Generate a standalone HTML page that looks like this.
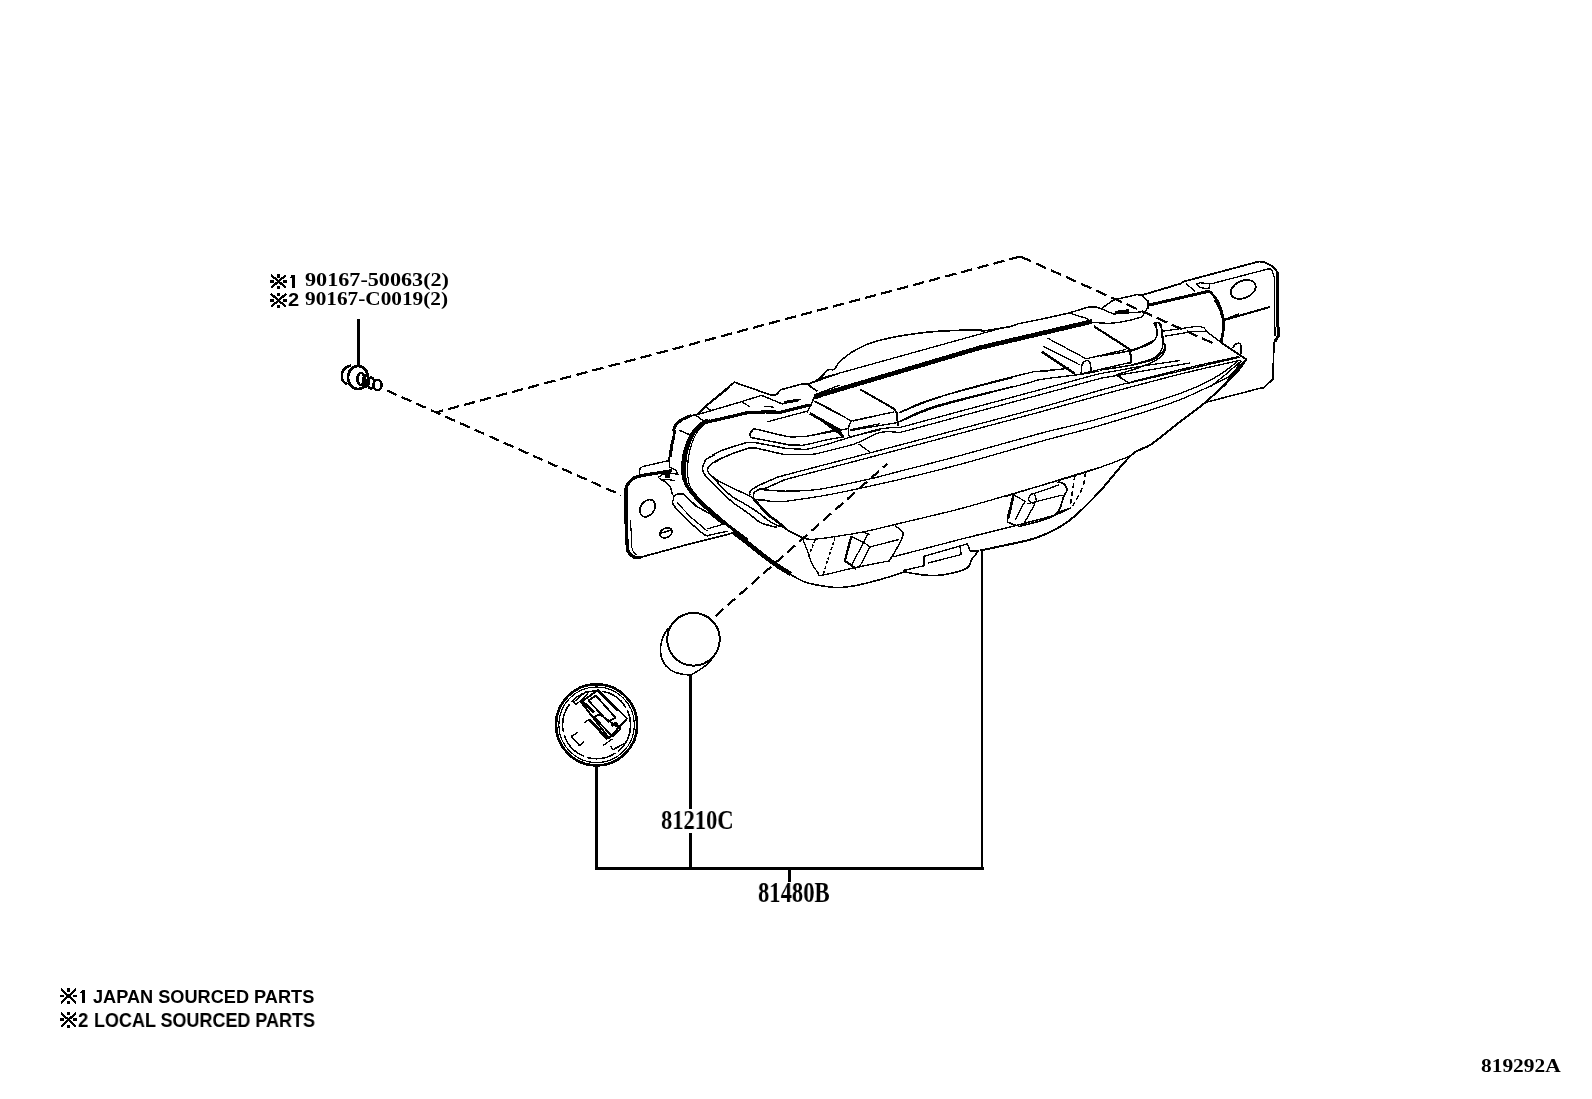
<!DOCTYPE html>
<html><head><meta charset="utf-8">
<style>
html,body{margin:0;padding:0;background:#fff;}
body{width:1592px;height:1099px;overflow:hidden;position:relative;}
svg{position:absolute;left:0;top:0;}
.t{position:absolute;white-space:nowrap;color:#000;line-height:1;transform-origin:0 0;will-change:transform;}
.ser{font-family:"Liberation Serif",serif;font-weight:bold;}
.san{font-family:"Liberation Sans",sans-serif;}
</style></head><body>
<svg width="1592" height="1099" viewBox="0 0 1592 1099">
<g fill="none" stroke="#000" stroke-linejoin="round" stroke-linecap="butt" shape-rendering="crispEdges">
<path d="M668.8,460.8 L669.6,454.5 L670.9,445.8 L673.1,437.0 L674.4,428.9 L677.5,423.9 L682.5,420.1 L692.5,415.5 L698.1,413.9 L705.0,407.0 L730.0,387.0" stroke-width="1.60"/>
<path d="M670.9,457.0 L671.9,445.8 L674.0,437.0 L675.0,430.1" stroke-width="2.20"/>
<path d="M639.4,475.8 L640.0,468.2 L643.1,466.4 L668.1,460.8 L669.1,460.8" stroke-width="1.30"/>
<path d="M669.1,460.8 L669.6,467.0 L676.2,470.5 L677.5,474.5" stroke-width="1.30"/>
<path d="M626.0,488.0 C626.3,487.3 626.7,485.7 628.0,484.0 C629.3,482.3 631.2,479.5 634.0,478.0 C636.8,476.5 640.0,476.0 645.0,475.0 C650.0,474.0 659.5,472.8 664.0,472.0 C668.5,471.2 670.7,470.8 672.0,470.5" stroke-width="3.20"/>
<path d="M626.5,488.0 L626.2,524.0" stroke-width="4.00"/>
<path d="M708.4,420.0 C707.3,420.5 704.8,420.7 701.8,423.3 C698.9,425.8 693.8,430.4 690.9,435.3 C688.0,440.2 685.7,448.0 684.4,452.8 C683.0,457.5 682.9,459.7 682.7,463.7 C682.5,467.7 682.6,473.1 683.3,476.8 C683.9,480.4 685.3,483.0 686.6,485.5 C687.8,488.1 688.4,489.0 690.9,492.1 C693.5,495.2 697.7,500.1 701.8,504.1 C706.0,508.1 710.6,511.7 716.0,516.1 C721.5,520.5 729.3,526.3 734.6,530.3 C739.9,534.3 745.5,538.4 747.7,540.0" stroke-width="3.00"/>
<path d="M712.8,420.0 C711.3,420.7 706.9,421.8 704.0,424.4 C701.1,426.9 697.7,430.6 695.3,435.3 C692.8,440.0 690.6,447.1 689.3,452.8 C688.0,458.4 687.6,463.9 687.6,469.1 C687.6,474.4 688.1,480.4 689.3,484.4 C690.5,488.4 691.7,489.5 694.7,493.2 C697.7,496.8 702.5,501.7 707.3,506.3 C712.1,510.8 718.4,515.9 723.7,520.5 C729.0,525.0 735.3,530.3 739.0,533.6 C742.6,536.8 744.4,538.9 745.5,540.0" stroke-width="1.20"/>
<path d="M714.8,455.0 C713.4,455.7 708.5,457.4 706.6,459.0 C704.7,460.5 704.2,462.9 703.5,464.5 C702.8,466.2 702.4,467.5 702.5,469.0 C702.6,470.5 703.2,472.1 703.9,473.4 C704.5,474.7 704.8,474.9 706.6,476.8 C708.4,478.8 711.7,481.9 714.8,485.0 C717.9,488.1 721.8,492.2 725.0,495.2 C728.2,498.3 730.7,500.9 733.9,503.4 C737.1,505.9 741.0,508.1 744.1,510.3 C747.2,512.4 749.7,514.4 752.3,516.4 C754.9,518.4 757.5,520.8 759.8,522.2 C762.1,523.6 763.1,523.7 765.9,524.6 C768.8,525.4 775.0,526.9 776.9,527.3" stroke-width="1.50"/>
<path d="M729.1,455.0 C726.8,456.0 718.8,459.3 715.5,461.1 C712.2,463.0 710.6,464.5 709.3,465.9 C708.0,467.3 707.7,468.2 707.6,469.3 C707.5,470.5 707.3,470.9 708.6,472.7 C709.9,474.6 712.8,477.4 715.5,480.2 C718.1,483.1 721.4,486.9 724.3,489.8 C727.3,492.6 730.1,495.1 733.2,497.3 C736.3,499.5 739.1,500.6 742.7,502.7 C746.4,504.9 751.6,508.0 755.0,510.3 C758.4,512.5 761.2,514.8 763.2,516.4 C765.3,518.0 765.0,518.3 767.3,519.8 C769.6,521.3 773.9,524.0 776.9,525.3 C779.8,526.5 783.6,527.0 785.0,527.3" stroke-width="1.50"/>
<path d="M708.6,472.7 C709.3,473.4 711.3,475.6 712.7,476.8 C714.2,478.1 715.7,479.1 717.5,480.2 C719.3,481.4 721.0,482.3 723.6,483.6 C726.3,485.0 729.1,486.5 733.2,488.4 C737.3,490.4 744.8,493.5 748.2,495.2 C751.6,497.0 752.8,498.1 753.7,498.7" stroke-width="1.50"/>
<path d="M753.7,498.7 L756.4,502.1 L763.2,509.6 L770.0,516.4 L776.9,521.2 L785.0,528.0" stroke-width="2.60"/>
<path d="M785.0,475.1 C783.6,475.5 781.1,475.9 776.9,477.5 C772.7,479.2 764.0,483.0 759.8,485.0 C755.6,487.1 753.3,488.4 751.6,489.8 C749.9,491.2 749.9,492.4 749.6,493.2 C749.3,494.0 749.9,494.3 749.9,494.6" stroke-width="1.50"/>
<path d="M785.0,479.6 C781.9,480.9 770.8,486.2 766.6,487.7 C762.4,489.3 761.8,488.3 759.8,489.1 C757.8,489.9 755.4,491.4 754.3,492.5 C753.3,493.7 753.4,494.9 753.3,495.9 C753.2,497.0 753.6,498.2 753.7,498.7" stroke-width="1.50"/>
<path d="M759.8,489.4 L772.1,490.5 L785.0,491.2" stroke-width="1.50"/>
<path d="M756.4,499.7 L763.2,500.0 L772.8,501.7 L785.0,501.4" stroke-width="1.50"/>
<path d="M747.2,442.4 L734.6,446.2 L721.5,450.6 L711.7,455.5" stroke-width="1.50"/>
<path d="M749.9,447.8 L734.6,452.8 L719.3,459.3 L714.9,462.6" stroke-width="1.50"/>
<path d="M747.2,442.4 L755.3,442.6 L787.0,448.6 L800.0,448.9" stroke-width="1.50"/>
<path d="M749.9,447.8 L756.4,448.1 L784.8,454.7 L800.0,454.4" stroke-width="1.50"/>
<path d="M751.0,437.5 C750.8,436.9 749.7,435.3 749.9,434.2 C750.1,433.1 751.0,431.7 752.1,430.9 C753.2,430.1 750.6,428.4 756.4,429.3 C762.3,430.2 779.7,435.2 787.0,436.4 C794.3,437.6 797.8,436.4 800.0,436.4" stroke-width="1.50"/>
<path d="M751.0,437.5 L789.2,444.9 L800.0,445.1" stroke-width="1.50"/>
<path d="M690.0,416.2 L697.5,414.3 L706.0,405.8 L734.3,382.2 L772.0,395.4 L776.7,394.5 L780.5,389.8 L803.1,383.7 L808.7,384.1 L819.1,379.4 L827.6,370.0" stroke-width="1.60"/>
<path d="M808.7,384.1 L839.8,373.0" stroke-width="1.30"/>
<path d="M807.8,384.6 L817.2,391.2" stroke-width="1.80"/>
<path d="M695.7,415.2 L704.1,421.4" stroke-width="1.40"/>
<path d="M706.0,406.7 L710.3,410.0" stroke-width="1.40"/>
<path d="M698.5,414.3 L737.1,403.0 L761.6,395.4 L782.3,403.9 L801.2,399.2" stroke-width="1.40"/>
<path d="M784.2,402.5 L798.4,400.0" stroke-width="3.00"/>
<path d="M740.9,401.1 L750.3,407.2" stroke-width="1.20"/>
<path d="M764.4,406.3 L773.9,407.2" stroke-width="1.20"/>
<path d="M704.1,422.8 L746.5,412.9 L765.4,411.9 L780.5,412.2 L809.7,404.9" stroke-width="3.20"/>
<path d="M767.3,421.8 L805.9,411.5" stroke-width="1.30"/>
<path d="M806.8,412.4 L810.6,405.8 L815.3,394.5" stroke-width="1.50"/>
<path d="M815.3,401.1 L840.0,414.3" stroke-width="1.30"/>
<path d="M809.7,413.3 L840.0,430.3" stroke-width="2.80"/>
<path d="M815.3,394.5 L840.0,385.1" stroke-width="1.30"/>
<path d="M815.3,398.3 L840.0,388.4" stroke-width="2.50"/>
<path d="M814.0,381.9 C815.0,381.1 818.0,379.5 820.2,377.5 C822.5,375.5 825.5,371.4 827.8,370.0 C830.0,368.6 832.1,370.6 834.0,369.4 C835.9,368.1 836.7,364.9 839.0,362.5 C841.3,360.1 844.6,357.3 847.8,355.0 C850.9,352.7 854.0,350.7 857.8,348.8 C861.5,346.8 865.0,344.9 870.2,343.1 C875.5,341.4 881.7,339.7 889.0,338.1 C896.3,336.6 905.7,334.9 914.0,333.8 C922.3,332.6 928.2,331.9 939.0,331.2 C949.8,330.6 971.7,330.0 979.0,330.0 C986.3,330.0 979.0,331.3 982.8,331.0 C986.5,330.7 996.5,329.0 1001.5,328.1 C1006.5,327.3 1011.1,326.4 1013.0,326.0" stroke-width="1.60"/>
<path d="M819.0,378.8 L999.0,328.8" stroke-width="1.30"/>
<path d="M814.0,396.9 L980.0,347.7 L1092.0,321.5" stroke-width="4.60"/>
<path d="M860.2,389.4 L894.0,408.8 L897.1,413.1 L897.8,426.2" stroke-width="2.00"/>
<path d="M814.0,401.2 L851.5,420.9" stroke-width="1.30"/>
<path d="M851.5,420.9 L894.0,411.9" stroke-width="1.30"/>
<path d="M851.5,420.9 L849.0,425.0 L848.4,435.0 L851.5,438.1" stroke-width="1.30"/>
<path d="M850.2,430.6 L897.8,422.5" stroke-width="1.30"/>
<path d="M814.0,415.0 L842.8,436.2" stroke-width="1.80"/>
<path d="M838.5,430.0 L843.0,437.0" stroke-width="2.80"/>
<path d="M899.0,412.8 C904.6,410.4 913.8,404.6 932.8,398.8 C951.8,392.9 999.6,381.0 1013.0,377.5" stroke-width="1.30"/>
<path d="M899.0,421.9 C904.8,419.3 915.0,412.4 934.0,406.5 C953.0,400.6 999.8,389.8 1013.0,386.5" stroke-width="1.30"/>
<path d="M814.0,435.0 L849.0,428.5" stroke-width="1.30"/>
<path d="M900.0,412.5 C905.2,410.4 920.8,403.8 931.2,400.0 C941.7,396.2 946.9,394.4 962.5,390.0 C978.1,385.6 1012.5,376.8 1025.0,373.8 C1037.5,370.7 1030.4,372.4 1037.5,371.5 C1044.6,370.6 1062.5,369.0 1067.5,368.5" stroke-width="1.30"/>
<path d="M900.0,421.9 C905.8,419.5 914.2,413.9 935.0,407.5 C955.8,401.1 1007.3,388.4 1025.0,383.8 C1042.7,379.1 1032.5,380.9 1041.2,379.4 C1050.0,377.9 1067.9,376.1 1077.5,374.8 C1087.1,373.4 1095.4,371.8 1099.0,371.2" stroke-width="1.30"/>
<path d="M900.0,427.5 L1099.0,373.8" stroke-width="1.30"/>
<path d="M900.0,432.5 L1099.0,378.8" stroke-width="1.30"/>
<path d="M1003.8,497.0 L1099.0,467.5" stroke-width="1.30"/>
<path d="M892.5,557.0 L979.0,534.5" stroke-width="1.30"/>
<path d="M802.5,538.2 C803.2,540.1 805.4,545.5 806.9,549.5 C808.3,553.5 809.5,558.2 811.2,562.0 C813.0,565.8 815.6,569.8 817.5,572.0 C819.4,574.2 816.2,575.9 822.5,575.1 C828.8,574.4 843.8,570.0 855.0,567.6 C866.2,565.2 884.2,561.9 890.0,560.8" stroke-width="1.30"/>
<path d="M851.2,536.4 L845.0,560.8 L856.2,568.9" stroke-width="2.20"/>
<path d="M887.5,562.0 C888.3,561.0 889.9,560.3 892.5,555.8 C895.1,551.2 902.7,539.5 903.1,534.5 C903.5,529.5 896.4,527.2 895.0,525.8" stroke-width="1.50"/>
<path d="M851.2,536.4 L865.0,543.2 L870.0,547.0 L898.8,539.5" stroke-width="1.30"/>
<path d="M862.5,532.0 L870.0,534.5" stroke-width="1.30"/>
<path d="M862.5,544.5 L851.2,565.8" stroke-width="1.30"/>
<path d="M870.0,547.0 L858.8,568.2" stroke-width="1.30"/>
<path d="M867.5,534.5 L862.5,544.5" stroke-width="1.30"/>
<path d="M815.0,540.1 L808.1,557.0" stroke-width="1.50" stroke-dasharray="3,2"/>
<path d="M835.0,537.6 L823.1,574.5" stroke-width="1.50" stroke-dasharray="3,2"/>
<path d="M905.0,570.1 L923.8,565.8 L923.8,556.4 L967.5,543.9 L970.0,550.8 L979.0,550.8" stroke-width="1.40"/>
<path d="M927.5,563.2 L961.2,554.5 L960.0,547.0" stroke-width="1.30"/>
<path d="M1040.0,319.4 L1068.8,313.1 L1089.1,306.8 L1095.5,306.8 L1101.2,308.7 L1112.0,301.0 L1114.6,299.7 L1136.9,294.6 L1142.0,295.3 L1147.4,301.0 L1148.4,309.3" stroke-width="1.50"/>
<path d="M1142.0,295.3 L1170.0,287.0" stroke-width="1.50"/>
<path d="M1147.0,305.5 L1210.0,291.0" stroke-width="3.00"/>
<path d="M1101.2,308.8 L1113.8,314.0 L1141.2,311.9" stroke-width="1.30"/>
<path d="M1115.0,312.5 L1128.8,310.6" stroke-width="3.00"/>
<path d="M1070.0,313.1 L1087.5,318.8 L1089.4,321.9" stroke-width="1.30"/>
<path d="M1088.8,321.9 C1092.7,322.1 1104.0,323.9 1112.5,323.1 C1121.0,322.4 1134.8,319.1 1140.0,317.5 C1145.2,315.9 1142.5,315.4 1143.8,313.8 C1145.0,312.1 1146.7,309.8 1147.5,307.5 C1148.3,305.2 1148.5,301.2 1148.8,300.0" stroke-width="1.40"/>
<path d="M1093.8,326.2 C1099.4,329.9 1121.5,343.8 1127.5,348.1 C1133.5,352.5 1129.4,350.5 1130.0,352.5 C1130.6,354.5 1131.2,358.1 1131.2,360.0 C1131.2,361.9 1130.2,363.1 1130.0,363.8" stroke-width="2.20"/>
<path d="M1047.5,338.1 L1086.2,358.8" stroke-width="1.30"/>
<path d="M1043.1,346.2 L1080.0,365.0" stroke-width="1.30"/>
<path d="M1041.9,351.9 L1075.0,373.8" stroke-width="2.50"/>
<path d="M1086.2,358.8 L1126.2,349.4" stroke-width="1.30"/>
<path d="M1081.2,373.8 C1081.4,372.3 1081.0,367.2 1081.9,365.0 C1082.7,362.8 1084.9,361.0 1086.2,360.6 C1087.6,360.2 1089.2,360.5 1090.0,362.5 C1090.8,364.5 1091.0,370.8 1091.2,372.5" stroke-width="1.50"/>
<path d="M1081.2,373.8 L1130.0,362.5" stroke-width="1.30"/>
<path d="M1040.0,371.9 L1068.8,368.1" stroke-width="1.30"/>
<path d="M1153.8,322.5 C1154.3,323.8 1156.5,327.5 1156.9,330.0 C1157.3,332.5 1157.4,335.2 1156.2,337.5 C1155.1,339.8 1154.0,341.6 1150.0,343.8 C1146.0,345.9 1135.4,349.5 1132.5,350.6" stroke-width="1.50"/>
<path d="M1158.8,322.5 C1159.3,323.8 1161.1,326.5 1161.9,330.0 C1162.6,333.5 1163.4,340.0 1163.1,343.8 C1162.8,347.5 1161.8,350.0 1160.0,352.5 C1158.2,355.0 1157.3,356.7 1152.5,358.8 C1147.7,360.8 1134.8,364.0 1131.2,365.0" stroke-width="1.50"/>
<path d="M1165.0,343.8 C1165.0,344.8 1165.8,347.7 1165.0,350.0 C1164.2,352.3 1163.1,355.0 1160.0,357.5 C1156.9,360.0 1153.5,362.1 1146.2,365.0 C1139.0,367.9 1121.2,373.3 1116.2,375.0" stroke-width="1.50"/>
<path d="M1116.2,375.0 L1130.0,383.8" stroke-width="1.30"/>
<path d="M1215.0,300.0 C1216.0,302.1 1219.8,308.3 1221.2,312.5 C1222.7,316.7 1223.5,321.2 1223.8,325.0 C1224.0,328.8 1223.0,332.1 1222.5,335.0 C1222.0,337.9 1220.9,341.2 1220.6,342.5" stroke-width="2.40"/>
<path d="M1223.8,320.0 L1239.0,313.8" stroke-width="1.50"/>
<path d="M1142.5,295.0 L1180.0,283.8 L1185.0,281.2 L1258.8,261.5 L1263.8,261.9 L1272.5,266.2 L1277.5,271.9" stroke-width="1.80"/>
<path d="M1277.5,271.9 L1278.1,336.2 L1275.0,341.2" stroke-width="3.00"/>
<path d="M1271.9,270.0 L1274.4,277.5 L1275.0,336.2" stroke-width="1.20"/>
<path d="M1275.0,341.2 L1273.8,344.0 L1273.1,378.8 L1264.0,387.5 L1260.0,388.3" stroke-width="1.80"/>
<path d="M1211.2,283.8 L1268.8,268.8 L1272.5,269.4" stroke-width="1.30"/>
<path d="M1186.2,283.8 L1195.0,291.2" stroke-width="1.30"/>
<path d="M1196.2,283.8 L1200.0,287.5 L1208.8,288.8 L1210.0,283.8 L1200.0,282.8 L1196.2,283.8" stroke-width="1.30"/>
<path d="M1224.4,320.0 L1270.0,306.9" stroke-width="2.00"/>
<path d="M1210.0,291.2 C1211.2,292.9 1215.5,297.7 1217.5,301.2 C1219.5,304.8 1220.8,309.0 1221.9,312.5 C1222.9,316.0 1223.6,318.8 1223.8,322.5 C1223.9,326.2 1222.9,331.7 1222.5,335.0 C1222.1,338.3 1221.5,341.2 1221.2,342.5" stroke-width="2.60"/>
<path d="M1232.5,348.1 C1233.1,347.4 1234.9,344.4 1236.2,343.8 C1237.6,343.1 1239.8,342.7 1240.6,344.4 C1241.5,346.0 1241.1,352.2 1241.2,353.8" stroke-width="1.60"/>
<path d="M1221.2,342.5 L1246.2,359.4 L1243.8,362.5 L1231.2,375.0 L1223.8,387.0" stroke-width="2.00"/>
<path d="M1162.5,331.2 L1197.5,326.2 L1203.8,327.5 L1207.5,331.9" stroke-width="1.30"/>
<path d="M1165.0,336.2 L1192.5,331.5 L1206.2,331.2" stroke-width="1.30"/>
<path d="M1206.2,331.2 L1221.2,342.5" stroke-width="1.30"/>
<path d="M1131.2,382.5 L1240.0,357.2" stroke-width="1.30"/>
<path d="M1241.2,361.0 L1225.0,375.0 L1210.0,387.0" stroke-width="1.30"/>
<path d="M1153.8,322.5 C1154.2,322.7 1155.8,321.2 1156.2,323.8 C1156.7,326.2 1157.3,334.4 1156.2,337.5 C1155.2,340.6 1154.0,340.4 1150.0,342.5 C1146.0,344.6 1140.8,347.7 1132.5,350.0 C1124.2,352.3 1105.4,355.2 1100.0,356.2" stroke-width="1.50"/>
<path d="M1157.5,322.5 C1158.1,322.9 1160.4,322.1 1161.2,325.0 C1162.1,327.9 1161.9,336.7 1162.5,340.0 C1163.1,343.3 1164.8,343.3 1165.0,345.0 C1165.2,346.7 1165.4,347.7 1163.8,350.0 C1162.1,352.3 1160.2,356.2 1155.0,358.8 C1149.8,361.2 1141.7,363.1 1132.5,365.0 C1123.3,366.9 1105.4,369.2 1100.0,370.0" stroke-width="1.50"/>
<path d="M970.0,537.0 C978.8,534.8 1008.3,527.4 1022.5,523.8 C1036.7,520.1 1046.9,517.7 1055.0,515.0 C1063.1,512.3 1068.5,509.0 1071.2,507.8" stroke-width="1.50"/>
<path d="M1013.8,493.8 C1012.7,497.9 1008.1,513.9 1007.5,518.8 C1006.9,523.6 1008.3,522.0 1010.0,523.1 C1011.7,524.3 1015.4,525.2 1017.5,525.6 C1019.6,526.0 1016.2,527.4 1022.5,525.6 C1028.8,523.9 1048.1,519.9 1055.0,515.0 C1061.9,510.1 1061.8,500.4 1063.8,496.2 C1065.7,492.1 1066.9,492.1 1066.9,490.0 C1066.9,487.9 1065.3,485.1 1063.8,483.8 C1062.2,482.4 1058.5,482.2 1057.5,481.9" stroke-width="1.60"/>
<path d="M1013.8,493.8 L1008.1,518.8" stroke-width="2.60"/>
<path d="M1030.0,495.0 L1058.8,485.0" stroke-width="1.30"/>
<path d="M1027.5,503.8 L1062.5,495.0" stroke-width="1.30"/>
<path d="M1028.1,500.0 C1028.4,499.2 1029.1,496.0 1030.0,495.0 C1030.9,494.0 1032.7,492.9 1033.8,493.8 C1034.8,494.6 1036.2,498.3 1036.2,500.0 C1036.2,501.7 1035.1,503.8 1033.8,503.8 C1032.4,503.8 1029.1,500.6 1028.1,500.0" stroke-width="1.30"/>
<path d="M1013.8,495.0 L1025.0,501.2 L1015.0,520.0" stroke-width="1.30"/>
<path d="M1035.0,503.8 L1023.8,523.8" stroke-width="1.30"/>
<path d="M1075.0,475.0 L1070.0,507.5" stroke-width="1.60" stroke-dasharray="5,3"/>
<path d="M1085.6,472.5 C1085.1,475.0 1084.7,481.9 1082.5,487.5 C1080.3,493.1 1074.2,503.1 1072.5,506.2" stroke-width="1.60" stroke-dasharray="5,3"/>
<path d="M1057.5,512.5 L1070.0,508.1" stroke-width="1.30"/>
<path d="M598.3,689.8 L627.0,718.5 L609.0,738.1 L581.1,702.1 Z" stroke-width="2.00"/>
<path d="M582.8,701.7 L594.2,712.8" stroke-width="2.60"/>
<path d="M589.3,719.3 L607.3,739.0" stroke-width="2.80"/>
<path d="M598.3,690.6 L618.0,710.3" stroke-width="2.80"/>
<path d="M588.5,700.5 L595.9,695.6 L615.5,717.7 L608.1,721.8 Z" stroke-width="1.80"/>
<path d="M594.2,716.9 L600.0,714.4 L620.4,729.1 L612.2,736.5 Z" stroke-width="1.80"/>
<path d="M611.4,725.9 L615.5,723.4 L620.4,729.1" stroke-width="3.00"/>
<path d="M573.8,702.1 L586.0,691.5 L587.7,693.9 L576.2,704.6 Z" stroke-width="1.30"/>
<path d="M577.8,732.4 L571.3,736.5 L579.5,745.5 L584.4,741.4" stroke-width="1.50"/>
<path d="M610.6,746.3 L613.1,749.6 L627.0,742.2" stroke-width="1.50"/>
<path d="M603.2,745.5 L612.2,739.0" stroke-width="1.30"/>
<path d="M584.4,722.6 L589.3,719.3" stroke-width="1.30"/>
<path d="M626.2,520.0 C626.3,523.5 626.7,535.8 627.0,541.0 C627.3,546.2 626.8,548.3 628.0,551.0 C629.2,553.7 631.8,556.0 634.0,557.0 C636.2,558.0 639.8,557.2 641.0,557.2" stroke-width="3.20"/>
<path d="M630.6,520.0 C630.8,523.5 631.2,536.0 631.5,541.0 C631.8,546.0 631.6,547.6 632.5,550.0 C633.4,552.4 636.2,554.3 636.9,555.2" stroke-width="1.10"/>
<path d="M641.2,557.1 L685.0,545.2 L733.8,532.8" stroke-width="1.70"/>
<path d="M661.2,533.1 L671.2,530.0" stroke-width="1.50"/>
<path d="M672.5,501.2 C672.8,502.1 671.7,502.9 674.4,506.2 C677.1,509.6 683.6,516.5 688.8,521.2 C693.9,526.0 701.2,532.8 705.0,535.0 C708.8,537.2 710.2,534.5 711.2,534.4" stroke-width="1.50"/>
<path d="M676.9,502.5 L691.2,517.5 L707.5,531.2" stroke-width="1.30"/>
<path d="M673.1,501.2 L673.8,496.2 L677.5,493.8 L683.8,494.0 L696.2,506.2 L710.0,513.8 L723.8,525.0" stroke-width="1.50"/>
<path d="M733.0,532.0 C735.4,533.8 743.3,539.7 747.6,543.0 C751.9,546.3 753.9,548.2 758.8,552.0 C763.6,555.8 771.6,561.8 777.0,565.5 C782.4,569.2 788.7,572.6 791.0,574.0" stroke-width="4.50"/>
<path d="M789.0,573.5 C791.7,574.9 798.5,579.9 805.3,582.1 C812.1,584.4 823.0,586.2 829.8,587.0 C836.6,587.8 839.4,587.8 846.2,587.0 C853.0,586.2 861.2,584.6 870.7,582.1 C880.2,579.6 897.6,574.3 903.3,572.3 C909.0,570.2 904.7,570.2 905.0,569.8" stroke-width="1.60"/>
<path d="M905.0,569.5 C905.3,570.0 901.4,571.3 906.6,572.3 C911.8,573.3 926.2,576.0 936.0,575.5 C945.8,575.0 959.4,571.7 965.4,569.0 C971.4,566.3 969.7,562.2 971.9,559.2 C974.1,556.2 977.3,552.4 978.4,551.0" stroke-width="1.60"/>
<path d="M658.8,478.1 C659.8,478.8 663.1,480.5 665.0,481.9 C666.9,483.2 668.8,484.1 670.0,486.2 C671.2,488.4 672.1,493.5 672.5,495.0" stroke-width="1.40"/>
<path d="M707.5,528.8 L725.0,523.8" stroke-width="1.30"/>
<path d="M710.0,535.0 L727.5,531.2" stroke-width="1.30"/>
<path d="M785.0,475.1 C804.2,470.1 870.8,452.7 900.0,445.0 C929.2,437.3 936.7,435.2 960.0,429.0 C983.3,422.8 1016.7,414.1 1040.0,407.6 C1063.3,401.2 1085.0,394.5 1100.0,390.3 C1115.0,386.1 1115.1,386.2 1130.2,382.3 C1145.3,378.4 1172.4,371.5 1190.5,367.2 C1208.6,362.9 1230.7,358.4 1238.7,356.6" stroke-width="1.30"/>
<path d="M785.0,479.6 C804.2,474.6 870.8,457.1 900.0,449.4 C929.2,441.7 936.7,439.6 960.0,433.4 C983.3,427.2 1016.7,418.4 1040.0,412.0 C1063.3,405.6 1080.0,400.8 1100.0,395.3 C1120.0,389.8 1143.5,383.6 1160.3,379.2 C1177.0,374.8 1187.1,372.4 1200.5,369.2 C1213.9,366.0 1234.0,361.7 1240.7,360.2" stroke-width="1.30"/>
<path d="M785.0,491.2 C790.4,490.9 803.8,491.4 817.5,489.5 C831.2,487.6 853.8,482.5 867.5,479.5 C881.2,476.5 884.6,475.2 900.0,471.2 C915.4,467.3 936.7,461.9 960.0,455.6 C983.3,449.3 1016.7,439.7 1040.0,433.5 C1063.3,427.3 1076.6,425.1 1100.0,418.4 C1123.4,411.7 1161.1,400.2 1180.4,393.3 C1199.7,386.4 1206.2,382.4 1215.6,377.2 C1225.0,372.0 1233.2,364.7 1236.7,362.2" stroke-width="1.30"/>
<path d="M785.0,501.4 C792.5,500.2 810.8,498.2 830.0,494.5 C849.2,490.8 878.3,484.4 900.0,479.4 C921.7,474.4 936.7,470.7 960.0,464.4 C983.3,458.1 1016.7,448.1 1040.0,441.6 C1063.3,435.1 1078.3,431.9 1100.0,425.5 C1121.7,419.1 1152.8,409.6 1170.4,403.4 C1188.0,397.2 1195.5,393.0 1205.5,388.3 C1215.5,383.6 1224.8,379.7 1230.7,375.2 C1236.6,370.7 1239.0,363.5 1240.7,361.2" stroke-width="1.30"/>
<path d="M802.5,538.2 C803.8,538.4 807.4,539.2 810.4,539.3 C813.4,539.4 816.7,539.0 820.6,538.6 C824.5,538.2 826.7,537.9 833.7,536.8 C840.7,535.7 851.8,534.2 862.8,532.0 C873.8,529.8 883.8,527.2 900.0,523.3 C916.2,519.4 941.2,513.7 960.0,508.8 C978.8,503.8 991.7,499.8 1012.5,493.8 C1033.3,487.7 1065.4,478.8 1085.0,472.5 C1104.6,466.2 1122.5,459.0 1130.0,456.2" stroke-width="1.30"/>
<path d="M1205.5,402.4 L1260.0,388.3" stroke-width="1.50"/>
<path d="M1008.0,327.6 L1018.2,323.8 L1040.0,319.4" stroke-width="1.50"/>
<path d="M800.0,448.9 C801.1,449.0 802.1,450.1 806.8,449.3 C811.5,448.5 821.5,445.8 828.0,444.0 C834.5,442.2 836.8,441.2 845.5,438.7 C854.2,436.2 870.9,430.9 880.0,429.0 C889.1,427.1 896.7,427.8 900.0,427.5" stroke-width="1.30"/>
<path d="M800.0,454.4 C802.3,454.3 810.0,454.5 813.9,454.1 C817.8,453.7 816.9,453.6 823.6,451.9 C830.3,450.2 844.9,447.2 854.3,444.0 C863.7,440.8 872.4,434.4 880.0,432.5 C887.6,430.6 896.7,432.5 900.0,432.5" stroke-width="1.30"/>
<path d="M800.0,436.4 C801.7,436.3 804.3,436.8 810.4,435.6 C816.5,434.5 832.3,430.5 836.7,429.5" stroke-width="1.30"/>
<path d="M800.0,445.1 C800.9,445.1 800.4,445.8 805.1,444.9 C809.8,444.0 821.5,440.9 828.0,439.6 C834.5,438.3 841.2,437.3 843.8,436.9" stroke-width="1.30"/>
<path d="M852.6,421.1 L880.0,415.0" stroke-width="1.30"/>
<path d="M849.9,429.9 L880.0,423.7" stroke-width="1.30"/>
<path d="M858.7,444.0 L871.0,452.8" stroke-width="1.30"/>
<path d="M849.9,436.9 L880.0,429.9" stroke-width="1.30"/>
<path d="M678.8,430.1 L690.6,435.1" stroke-width="1.40"/>
<path d="M785.0,528.0 C785.7,528.5 786.3,529.6 789.2,531.2 C792.1,532.8 800.1,536.6 802.3,537.7" stroke-width="1.60"/>
<path d="M1099.0,373.8 C1102.2,373.2 1111.1,371.7 1117.9,370.5 C1124.7,369.3 1129.7,368.2 1140.0,366.5 C1150.3,364.8 1173.3,361.5 1180.0,360.5" stroke-width="1.30"/>
<path d="M1099.0,378.6 C1105.8,377.4 1124.8,374.1 1140.0,371.5 C1155.2,368.9 1181.7,364.4 1190.0,363.0" stroke-width="1.30"/>
<path d="M1116.6,374.5 L1129.2,383.3" stroke-width="1.30"/>
<path d="M710.6,420.0 C709.3,420.6 705.8,421.3 702.9,423.8 C700.0,426.4 695.8,430.5 693.1,435.3 C690.4,440.1 688.1,447.7 686.8,452.8 C685.5,457.9 685.4,461.1 685.2,465.9 C685.1,470.6 685.2,477.3 686.0,481.1 C686.8,485.0 687.9,485.9 689.8,488.8 C691.7,491.7 694.4,495.2 697.5,498.6 C700.6,502.1 704.4,505.9 708.4,509.5 C712.4,513.2 716.8,516.6 721.5,520.5 C726.2,524.3 732.6,529.2 736.8,532.5 C741.0,535.7 745.0,538.7 746.6,540.0" stroke-width="2.00"/>
<path d="M980.0,550.5 C983.3,549.8 990.4,548.5 1000.0,546.3 C1009.6,544.1 1026.2,541.5 1037.7,537.3 C1049.2,533.1 1058.7,528.3 1068.8,520.9 C1078.9,513.5 1087.9,503.9 1098.3,493.0 C1108.7,482.1 1122.3,463.4 1131.0,455.4 C1139.7,447.3 1143.0,449.9 1150.7,444.7 C1158.4,439.5 1167.9,431.2 1176.9,424.2 C1185.9,417.2 1196.0,410.3 1204.8,402.9 C1213.5,395.5 1223.8,385.4 1229.4,380.0 C1235.1,374.6 1236.0,373.5 1238.7,370.2 C1241.4,366.9 1244.5,361.9 1245.7,360.2" stroke-width="2.00"/>
<path d="M658.0,477.7 L661.5,475.0 L669.0,473.0 L679.0,474.4" stroke-width="1.40"/>
<path d="M661.5,480.4 L668.0,479.3 L674.6,481.0" stroke-width="1.40"/>
<path d="M673.5,431.0 C673.8,430.2 673.9,427.8 675.0,426.0 C676.1,424.2 678.4,421.7 680.2,420.3 C682.0,418.9 684.2,418.3 686.0,417.5 C687.8,416.7 690.2,415.8 691.0,415.5" stroke-width="2.60"/>
<path d="M358.5,319 V365" stroke-width="2.5"/>
<path d="M596.5,765 V870 M595,868.5 H984" stroke-width="3"/>
<path d="M982,550 V870" stroke-width="2.6"/>
<path d="M690.5,675 V809 M690.5,833 V868" stroke-width="3"/>
<path d="M789.5,868 V882" stroke-width="3"/>
<g transform="translate(278.5,281.4)"><path d="M-7.5,-6.3 L7.5,6.3 M7.5,-6.3 L-7.5,6.3" stroke-width="2.2"/><rect x="-1.9" y="-7.3" width="3.8" height="3.5" fill="#000" stroke="none"/><rect x="-1.9" y="4.3" width="3.8" height="3" fill="#000" stroke="none"/><rect x="-8.5" y="-1.4" width="3.7" height="2.8" fill="#000" stroke="none"/><rect x="4.8" y="-1.4" width="3.7" height="2.8" fill="#000" stroke="none"/></g>
<g transform="translate(278.5,300.4)"><path d="M-7.5,-6.5 L7.5,6.5 M7.5,-6.5 L-7.5,6.5" stroke-width="2.2"/><rect x="-1.9" y="-7.5" width="3.8" height="3.5" fill="#000" stroke="none"/><rect x="-1.9" y="4.5" width="3.8" height="3" fill="#000" stroke="none"/><rect x="-8.5" y="-1.4" width="3.7" height="2.8" fill="#000" stroke="none"/><rect x="4.8" y="-1.4" width="3.7" height="2.8" fill="#000" stroke="none"/></g>
<g transform="translate(68.5,996.0)"><path d="M-7.5,-7.0 L7.5,7.0 M7.5,-7.0 L-7.5,7.0" stroke-width="2.2"/><rect x="-1.9" y="-8.0" width="3.8" height="3.5" fill="#000" stroke="none"/><rect x="-1.9" y="5.0" width="3.8" height="3" fill="#000" stroke="none"/><rect x="-8.5" y="-1.4" width="3.7" height="2.8" fill="#000" stroke="none"/><rect x="4.8" y="-1.4" width="3.7" height="2.8" fill="#000" stroke="none"/></g>
<g transform="translate(68.5,1019.8)"><path d="M-7.5,-6.8 L7.5,6.8 M7.5,-6.8 L-7.5,6.8" stroke-width="2.2"/><rect x="-1.9" y="-7.8" width="3.8" height="3.5" fill="#000" stroke="none"/><rect x="-1.9" y="4.8" width="3.8" height="3" fill="#000" stroke="none"/><rect x="-8.5" y="-1.4" width="3.7" height="2.8" fill="#000" stroke="none"/><rect x="4.8" y="-1.4" width="3.7" height="2.8" fill="#000" stroke="none"/></g>
<path d="M387,390.5 L621,495" stroke-width="2.2" stroke-dasharray="10.5,5.5"/>
<path d="M1020.5,256.5 L435.5,412.5" stroke-width="2.2" stroke-dasharray="11.4,5.2"/>
<path d="M1020.5,256.5 L1217,345" stroke-width="2.2" stroke-dasharray="11.4,5.2"/>
<path d="M715.5,616 L887.5,463.5" stroke-width="2.2" stroke-dasharray="10.5,5.5"/>
<ellipse cx="1243.3" cy="289.4" rx="13" ry="8.6" transform="rotate(-24 1243.3 289.4)" stroke-width="1.8"/>
<circle cx="693.5" cy="639.3" r="26.3" stroke-width="2.0"/>
<path d="M668.5,628 C660,638 657,655 666,666 C673,674 684,675 691,675 C700,670 708,665 711,660" stroke-width="1.6"/>
<circle cx="596.6" cy="724.8" r="40.6" stroke-width="2.6"/>
<circle cx="596.6" cy="724.8" r="37.8" stroke-width="1.2"/>
<circle cx="596.6" cy="724.8" r="34" stroke-width="1.5" stroke-dasharray="30,3"/>
<path d="M351,365.5 C344,367 341.5,372 341.8,377 C342,381 344,383 347.5,384" stroke-width="2.6"/>
<ellipse cx="358" cy="377.5" rx="10" ry="11.6" stroke-width="2.6"/>
<ellipse cx="361" cy="379" rx="3.6" ry="6" stroke-width="2.6"/>
<ellipse cx="366" cy="381" rx="3.2" ry="5.5" stroke-width="2.6"/>
<ellipse cx="371" cy="383" rx="3.2" ry="5.5" stroke-width="2.6"/>
<ellipse cx="377.5" cy="385" rx="4" ry="5.2" stroke-width="2.6"/>
<ellipse cx="647.5" cy="508.2" rx="9.3" ry="6.8" transform="rotate(-55 647.5 508.2)" stroke-width="1.7"/>
<ellipse cx="666" cy="532.8" rx="6.5" ry="4.6" transform="rotate(-25 666 532.8)" stroke-width="1.7"/>
<path d="M291.6,274.9 H295.2 V288.1 H291.6 Z M290.1,277.5 L291.8,275 L292.5,277.5 Z" fill="#000" stroke="none"/>
<path d="M82.2,989.9 H84.9 V1002.8 H82.2 Z M80.1,992.2 L82.4,990 L82.6,993 L80.1,993.2 Z" fill="#000" stroke="none"/>
<ellipse cx="667.5" cy="476" rx="3" ry="2" fill="#000" stroke="none"/>
</g>
</svg>
<div class="t" style="left:304.8px;top:270.2px;font-family:'Liberation Serif',serif;font-weight:bold;font-size:19.68px;transform:scaleX(1.126)">90167-50063(2)</div>
<div class="t" style="left:287.8px;top:290.3px;font-family:'Liberation Sans',sans-serif;font-weight:bold;font-size:19.15px;transform:scaleX(1.050)">2</div>
<div class="t" style="left:304.9px;top:289.8px;font-family:'Liberation Serif',serif;font-weight:bold;font-size:18.67px;transform:scaleX(1.141)">90167-C0019(2)</div>
<div class="t" style="left:660.7px;top:807.4px;font-family:'Liberation Serif',serif;font-weight:bold;font-size:26.96px;transform:scaleX(0.834)">81210C</div>
<div class="t" style="left:758.2px;top:877.7px;font-family:'Liberation Serif',serif;font-weight:bold;font-size:28.74px;transform:scaleX(0.787)">81480B</div>
<div class="t" style="left:92.7px;top:989.4px;font-family:'Liberation Sans',sans-serif;font-weight:bold;font-size:17.75px;transform:scaleX(1.023)">JAPAN SOURCED PARTS</div>
<div class="t" style="left:78.3px;top:1010.6px;font-family:'Liberation Sans',sans-serif;font-weight:bold;font-size:19.43px;transform:scaleX(0.951)">2</div>
<div class="t" style="left:94.3px;top:1010.7px;font-family:'Liberation Sans',sans-serif;font-weight:bold;font-size:19.31px;transform:scaleX(0.931)">LOCAL SOURCED PARTS</div>
<div class="t" style="left:1481.3px;top:1056.2px;font-family:'Liberation Serif',serif;font-weight:bold;font-size:19.86px;transform:scaleX(1.077)">819292A</div>
</body></html>
